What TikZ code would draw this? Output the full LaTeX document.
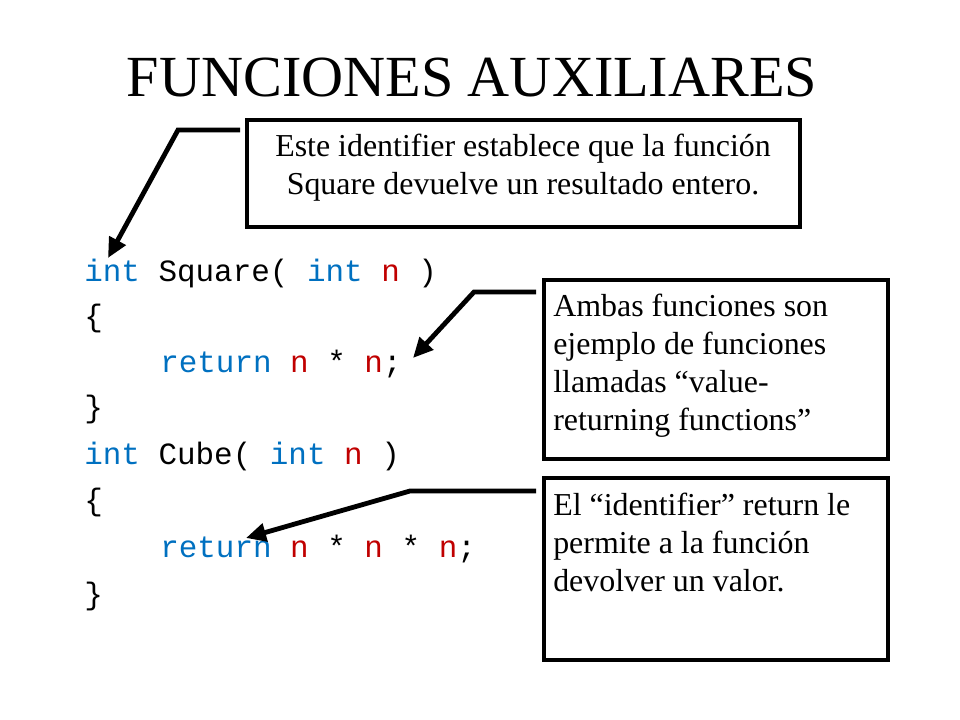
\documentclass[tikz,border=0pt]{standalone}
\usepackage{fontspec}
\setmainfont{Liberation Serif}
\setmonofont{Liberation Mono}
\usetikzlibrary{arrows.meta}
\definecolor{kwblue}{RGB}{0,112,192}
\definecolor{varred}{RGB}{192,0,0}
\newcommand{\kw}[1]{\textcolor{kwblue}{#1}}
\newcommand{\vr}[1]{\textcolor{varred}{#1}}
\tikzset{
  noteBox/.style={draw=black, line width=1.2mm, inner sep=0pt},
  noteText/.style={font=\fontsize{22.7}{27}\selectfont, align=left, anchor=north west, inner sep=0pt},
  codeLine/.style={font=\ttfamily\fontsize{22}{26}\selectfont, anchor=base west, inner sep=0pt},
  arrow/.style={line width=1.2mm, -{Triangle[length=5mm,width=4.5mm]}}
}
\begin{document}
\begin{tikzpicture}[x=0.025cm, y=-0.025cm]
    \useasboundingbox (0,0) rectangle (960,720);
    \node (title) at (472,78) {\fontsize{41.4}{48}\selectfont FUNCIONES AUXILIARES};

    \draw[noteBox] (247,120) rectangle (800,227);
    \node (note1) at (523,168) [align=center, font=\fontsize{22.7}{27}\selectfont] {Este identifier establece que la función\\Square devuelve un resultado entero.};
    \draw[noteBox] (544,280) rectangle (888,459);
    \node (note2) at (553,294) [noteText] {Ambas funciones son\\ejemplo de funciones\\llamadas “value-\\returning functions”};
    \draw[noteBox] (544,478) rectangle (888,660);
    \node (note3) at (553,493) [noteText] {El “identifier” return le\\permite a la función\\devolver un valor.};

    % code
    \node (l1) at (84,282) [codeLine] {\kw{int} Square( \kw{int} \vr{n} )};
    \node (l2) at (84,327) [codeLine] {\{};
    \node (l3) at (160,373) [codeLine] {\kw{return} \vr{n} * \vr{n};};
    \node (l4) at (84,418) [codeLine] {\}};
    \node (l5) at (84,465) [codeLine] {\kw{int} Cube( \kw{int} \vr{n} )};
    \node (l6) at (84,511) [codeLine] {\{};
    \node (l7) at (160,557) [codeLine] {\kw{return} \vr{n} * \vr{n} * \vr{n};};
    \node (l8) at (84,604) [codeLine] {\}};

    \coordinate (t1) at (108,258);
    \coordinate (t2) at (413,358);
    \coordinate (t3) at (246,538);
    \draw[arrow] (240,130) -- (178,130) -- (t1);
    \draw[arrow] (536,292) -- (474,292) -- (t2);
    \draw[arrow] (536,491) -- (410,491) -- (t3);
\end{tikzpicture}
\end{document}
